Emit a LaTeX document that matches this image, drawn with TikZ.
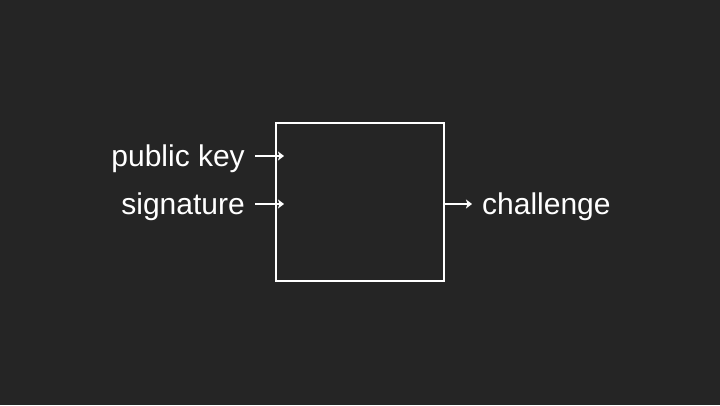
\documentclass[tikz,border=0pt]{standalone}
\usepackage{fontspec}
\setmainfont{Liberation Sans}
\usetikzlibrary{arrows.meta}
\begin{document}
\begin{tikzpicture}[x=1pt,y=-1pt,
  lbl/.style={text=white,font=\fontsize{30}{36}\selectfont,inner sep=0pt},
  conn/.style={draw=white,line width=2pt,-{Stealth[length=6pt,width=9pt,inset=1.5pt]}}]
\fill[fill={rgb,255:red,37;green,37;blue,37}] (0,0) rectangle (720,405);
\useasboundingbox (0,0) rectangle (720,405);
\node[draw=white,line width=2.5pt,minimum width=168pt,minimum height=158pt,inner sep=0pt] (box) at (360,202) {};
\node[lbl,anchor=base east] (pk) at (245,166) {public key};
\node[lbl,anchor=base east] (sig) at (245,214) {signature};
\node[lbl,anchor=base west] (ch) at (482,214) {challenge};
\coordinate (pkS) at (255,156);
\coordinate (pkE) at (284,156);
\coordinate (sgS) at (255,204);
\coordinate (sgE) at (284,204);
\coordinate (chS) at (444,204);
\coordinate (chE) at (472,204);
\draw[conn] (pkS) -- (pkE);
\draw[conn] (sgS) -- (sgE);
\draw[conn] (chS) -- (chE);
\end{tikzpicture}
\end{document}
